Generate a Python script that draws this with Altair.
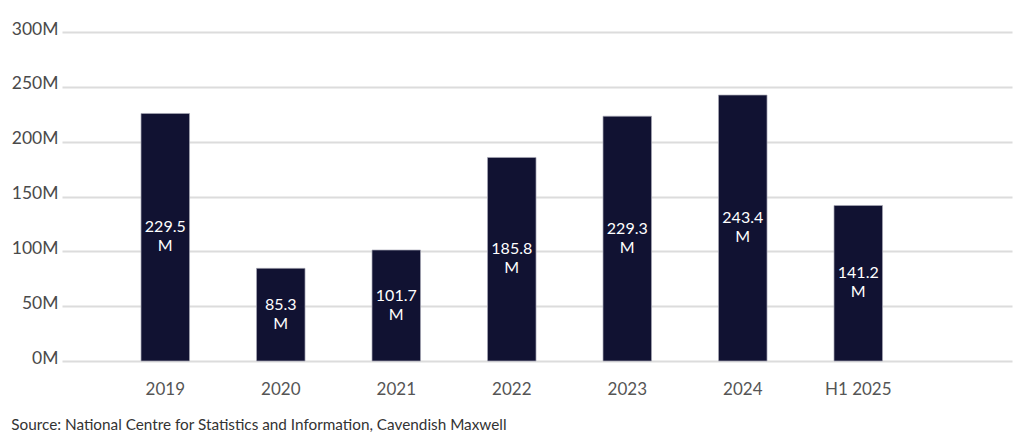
import altair as alt
import pandas as pd

categories = ["2019", "2020", "2021", "2022", "2023", "2024", "H1 2025"]
bar_values = [225.7, 84.5, 101.2, 185.6, 223.2, 242.5, 141.8]
label_values = ["229.5", "85.3", "101.7", "185.8", "229.3", "243.4", "141.2"]
y_ticks = [0, 50, 100, 150, 200, 250, 300]
source_text = "Source: National Centre for Statistics and Information, Cavendish Maxwell"

df = pd.DataFrame({
    "cat": categories,
    "value": bar_values,
    "label": [v + "\nM" for v in label_values],
})

FONT = "Lato"

x_enc = alt.X(
    "cat:N",
    sort=categories,
    scale=alt.Scale(paddingInner=0.58, paddingOuter=0.9026, align=0.379),
    axis=alt.Axis(
        title=None, labelAngle=0, domain=False, ticks=False,
        labelFont=FONT, labelFontSize=17, labelColor="#555555",
        labelPadding=20,
    ),
)

y_scale = alt.Scale(domain=[0, 300], nice=False)

bars = alt.Chart(df).mark_bar(
    color="#111232", stroke="#a8a8b4", strokeWidth=0.7
).encode(
    x=x_enc,
    y=alt.Y(
        "value:Q",
        scale=y_scale,
        axis=alt.Axis(
            title=None, values=y_ticks, labelExpr="datum.value + 'M'",
            domain=False, ticks=False, grid=True, gridColor="#dcdcdc",
            gridWidth=2, labelFont=FONT, labelFontSize=17.5,
            labelColor="#4a4a4a", labelPadding=4, labelBaseline="alphabetic",
            labelOffset=2,
        ),
    ),
)

labels = alt.Chart(df).transform_calculate(
    mid="datum.value / 2"
).mark_text(
    color="white", font=FONT, fontSize=16, lineBreak="\n", lineHeight=19,
    baseline="middle", align="center", dy=-10,
).encode(
    x=alt.X("cat:N", sort=categories),
    y=alt.Y("mid:Q", scale=y_scale),
    text="label:N",
)

chart = alt.layer(bars, labels).properties(
    width=950,
    height=329,
    autosize=alt.AutoSizeParams(type="none"),
    padding={"left": 54, "top": 24, "right": 4, "bottom": 78},
    title=alt.TitleParams(
        text=source_text, orient="bottom", anchor="start", frame="bounds",
        font=FONT, fontSize=15.3, fontWeight="normal", color="#333333",
        offset=21,
    ),
).configure_view(stroke=None)

chart.save("out.html", embed_options={"renderer": "svg", "actions": False})
